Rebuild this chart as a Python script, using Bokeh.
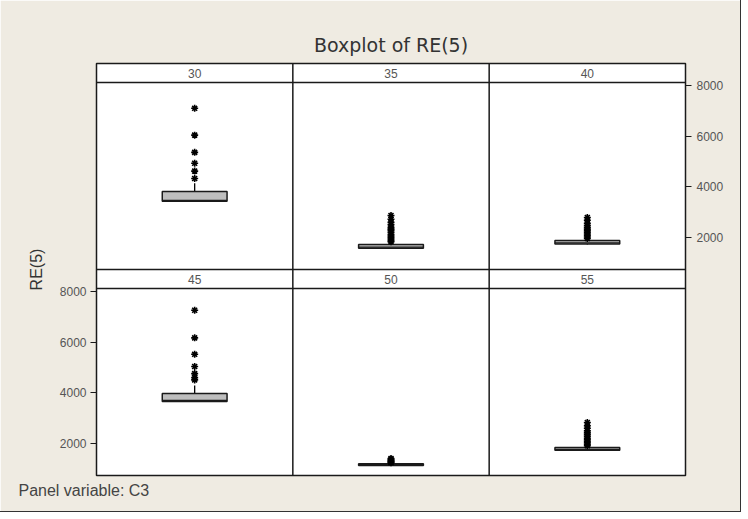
from bokeh.plotting import figure
from bokeh.models import ColumnDataSource, Range1d, LinearAxis, FixedTicker, Span, Title
from bokeh.core.properties import value
from bokeh.embed import file_html
from bokeh.resources import INLINE

# ---------------- data ----------------
panels = ["30", "35", "40", "45", "50", "55"]
q1 = [3430, 1580, 1740, 3660, 1130, 1730]
median = [3460, 1620, 1790, 3700, 1165, 1770]
q3 = [3815, 1720, 1880, 3970, 1200, 1840]
whisker_low = [3420, 1560, 1720, 3650, 1110, 1715]
whisker_high = [4140, 1800, 1950, 4290, 1230, 1900]
outliers = [
    [7100, 6040, 5360, 4930, 4620, 4330],
    [2870, 2720, 2600, 2510, 2400, 2330, 2270, 2200, 2120, 2060, 2000, 1940, 1880, 1830],
    [2790, 2680, 2560, 2480, 2400, 2330, 2260, 2200, 2140, 2080, 2020, 1960],
    [7260, 6170, 5520, 5040, 4760, 4600, 4510],
    [1410, 1370, 1330, 1300, 1270, 1240],
    [2830, 2700, 2600, 2500, 2420, 2350, 2280, 2210, 2150, 2090, 2030, 1970, 1910],
]
y_ticks = [2000, 4000, 6000, 8000]
title_text = "Boxplot of RE(5)"
y_label = "RE(5)"
panel_note = "Panel variable: C3"

# ---------------- layout / style ----------------
W, H = 740, 511
B_L, B_R, B_T, B_B = 96, 55, 63, 36
HEADER_PX, DATA_PX = 19, 187
Y_LO, Y_HI = 737, 8118
BG = "#EFEBE2"
FONT = "Liberation Sans"
TITLE_FONT = "DejaVu Sans"
BOX_HALF = 0.165
INK = "#1a1a1a"

u = (Y_HI - Y_LO) / DATA_PX
frame_units = 2 * (HEADER_PX + DATA_PX) * u
bot_range = Range1d(Y_LO, Y_LO + frame_units)
top_end = Y_HI + HEADER_PX * u
top_range = Range1d(top_end - frame_units, top_end)

p = figure(width=W, height=H, output_backend="svg", toolbar_location=None,
           x_range=Range1d(0, 3), y_range=bot_range,
           x_axis_location=None, y_axis_location=None,
           min_border_left=B_L, min_border_right=B_R,
           min_border_top=B_T, min_border_bottom=B_B)
p.extra_y_ranges = {"top": top_range}
p.grid.visible = False
p.background_fill_color = "white"
p.border_fill_color = BG
p.outline_line_color = INK
p.outline_line_width = 1.5
p.styles = {"outline": "1px solid #333"}

p.title.text = title_text
p.title.align = "center"
p.title.text_font = TITLE_FONT
p.title.text_font_size = "19px"
p.title.text_font_style = "normal"
p.title.text_color = "#333333"
p.title.standoff = 16
p.title.offset = -13

note = Title(text=panel_note, align="left", offset=-78, text_font=FONT,
             text_font_size="16px", text_font_style="normal",
             text_color="#444444", standoff=9)
p.add_layout(note, "below")

# panel separators
for xv in [1, 2]:
    p.add_layout(Span(location=xv, dimension="height", line_color=INK, line_width=1.5))
p.add_layout(Span(location=Y_HI, dimension="width", line_color=INK, line_width=1.5,
                  y_range_name="top"))
p.add_layout(Span(location=Y_HI, dimension="width", line_color=INK, line_width=1.5))
p.add_layout(Span(location=Y_HI + HEADER_PX * u, dimension="width", line_color=INK,
                  line_width=1.5))

for r, rname in enumerate(["top", "default"]):
    idx = [r * 3 + c for c in range(3)]
    xs = [c + 0.5 for c in range(3)]
    src = ColumnDataSource(dict(
        x=xs,
        left=[x - BOX_HALF for x in xs],
        right=[x + BOX_HALF for x in xs],
        q1=[q1[i] for i in idx],
        med=[median[i] for i in idx],
        q3=[q3[i] for i in idx],
        lo=[whisker_low[i] for i in idx],
        hi=[whisker_high[i] for i in idx],
    ))
    p.segment(x0="x", x1="x", y0="q3", y1="hi", source=src, line_color="black",
              line_width=1.3, y_range_name=rname)
    p.segment(x0="x", x1="x", y0="q1", y1="lo", source=src, line_color="black",
              line_width=1.3, y_range_name=rname)
    p.quad(left="left", right="right", bottom="q1", top="q3", source=src,
           fill_color="#BEBEBE", line_color=INK, line_width=1.5, y_range_name=rname)
    p.segment(x0="left", x1="right", y0="med", y1="med", source=src, line_color=INK,
              line_width=1.3, y_range_name=rname)
    ox, oy = [], []
    for c, i in enumerate(idx):
        ox += [xs[c]] * len(outliers[i])
        oy += outliers[i]
    p.scatter(ox, oy, marker="asterisk", size=7, line_color="black", line_width=1.6,
              y_range_name=rname)
    p.text(x=xs, y=[Y_HI + HEADER_PX * u / 2] * 3, text=[panels[i] for i in idx],
           text_align="center", text_baseline="middle", text_font=value(FONT),
           text_font_size="12px", text_color="#555555", y_range_name=rname)

def style_axis(ax):
    ax.ticker = FixedTicker(ticks=y_ticks)
    ax.bounds = (Y_LO, Y_HI)
    ax.axis_line_color = None
    ax.major_tick_line_color = INK
    ax.major_tick_line_width = 1.2
    ax.major_tick_out = 6
    ax.major_tick_in = 0
    ax.minor_tick_line_color = None
    ax.major_label_text_font = FONT
    ax.major_label_text_font_size = "12px"
    ax.major_label_text_color = "#555555"
    ax.major_label_standoff = 5

ax_top = LinearAxis(y_range_name="top")
style_axis(ax_top)
p.add_layout(ax_top, "right")

ax_bot = LinearAxis(y_range_name="default", axis_label=y_label)
style_axis(ax_bot)
ax_bot.major_label_standoff = 4
ax_bot.axis_label_text_font = FONT
ax_bot.axis_label_text_font_size = "16px"
ax_bot.axis_label_text_font_style = "normal"
ax_bot.axis_label_text_color = "#333333"
ax_bot.axis_label_standoff = 12
p.add_layout(ax_bot, "left")

open("out.html", "w").write(file_html(p, INLINE))
